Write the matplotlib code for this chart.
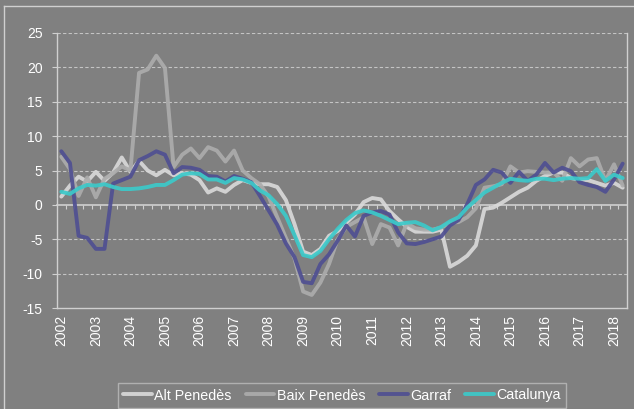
import matplotlib
matplotlib.use("Agg")
import matplotlib.pyplot as plt
from matplotlib.lines import Line2D

plt.rcParams['font.family'] = ['Liberation Sans', 'DejaVu Sans']

years = list(range(2002, 2019))
n_quarters = 66  # 2002Q1 .. 2018Q2

alt_penedes = [1.2, 2.8, 4.1, 3.4, 4.8, 3.5, 4.7, 6.9, 4.8, 6.4,
               5.0, 4.3, 5.1, 4.3, 4.6, 4.4, 3.6, 1.8, 2.4, 1.9,
               2.9, 3.6, 3.2, 3.0, 3.0, 2.6, 0.7, -2.8, -6.8, -7.3,
               -6.4, -4.5, -3.8, -2.6, -1.4, 0.4, 1.0, 0.8, -0.9, -2.1,
               -3.2, -3.9, -3.9, -3.9, -3.6, -9.0, -8.3, -7.4, -5.9, -0.6,
               -0.4, 0.3, 1.1, 1.9, 2.5, 3.5, 4.2, 4.7, 4.7, 3.9,
               3.7, 3.6, 3.2, 2.8, 3.2, 2.5]
baix_penedes = [7.0, 5.2, 1.3, 4.0, 1.1, 3.8, 4.6, 5.6, 5.0, 19.2,
                19.7, 21.7, 19.9, 5.5, 7.3, 8.2, 6.8, 8.4, 7.9, 6.3,
                7.9, 5.0, 3.9, 3.0, 1.2, -1.8, -4.8, -7.8, -12.6, -13.1,
                -11.3, -8.6, -5.0, -3.2, -2.5, -1.8, -5.7, -2.8, -3.3, -5.9,
                -2.7, -3.4, -3.6, -3.6, -3.3, -2.6, -2.5, -1.8, -0.5, 2.5,
                2.7, 3.0, 5.6, 4.7, 4.9, 4.8, 4.7, 4.7, 3.5, 6.8,
                5.6, 6.6, 6.8, 3.5, 5.9, 2.8]
garraf = [7.8, 6.1, -4.5, -4.8, -6.4, -6.4, 3.1, 3.6, 4.1, 6.5,
          7.1, 7.8, 7.3, 4.6, 5.5, 5.4, 5.1, 4.2, 4.1, 3.4,
          4.2, 3.8, 3.3, 1.3, -0.8, -2.9, -5.6, -7.6, -11.2, -11.4,
          -8.6, -7.2, -5.2, -3.0, -4.6, -1.6, -1.1, -0.9, -1.4, -4.0,
          -5.6, -5.7, -5.4, -5.0, -4.6, -3.0, -2.2, 0.1, 2.9, 3.7,
          5.1, 4.7, 3.2, 4.8, 3.5, 4.4, 6.1, 4.7, 5.4, 4.9,
          3.3, 2.9, 2.6, 1.9, 3.7, 6.0]
catalunya = [1.9, 1.6, 2.4, 2.9, 2.8, 3.0, 2.6, 2.3, 2.3, 2.4,
             2.6, 2.9, 2.9, 3.6, 4.4, 4.6, 4.5, 3.7, 3.7, 3.2,
             3.9, 3.7, 3.2, 2.1, 1.4, 0.1, -1.6, -4.4, -7.3, -7.6,
             -6.7, -5.0, -3.5, -2.2, -1.2, -0.8, -1.1, -1.6, -2.2, -2.8,
             -2.6, -2.5, -3.0, -3.7, -3.2, -2.4, -1.8, -0.4, 0.7, 1.8,
             2.5, 3.2, 3.8, 3.6, 3.5, 3.8, 3.8, 3.6, 3.8, 3.9,
             3.8, 3.9, 5.2, 3.5, 4.4, 3.9]

series_names = ['Alt Penedès', 'Baix Penedès', 'Garraf', 'Catalunya']
series_values = [alt_penedes, baix_penedes, garraf, catalunya]
series_colors = ['#d9d9d9', '#acacac', '#4f4f92', '#3ccaca']

bg = '#808080'
light = '#d0d0d0'
W, H = 634, 409
fig = plt.figure(figsize=(W / 100, H / 100), dpi=100, facecolor=bg)
ax = fig.add_axes([57 / W, 1 - 308 / H, (627 - 57) / W, (308 - 33) / H])
ax.set_facecolor(bg)

x = list(range(n_quarters))
for name, vals, col in zip(series_names, series_values, series_colors):
    ax.plot(x, vals, color=col, lw=2.8, label=name, alpha=0.92,
            solid_joinstyle='round', solid_capstyle='round', zorder=3)

ax.set_xlim(-0.5, n_quarters - 0.5)
ax.set_ylim(-15, 25)
ax.set_yticks(range(-15, 30, 5))
ax.set_yticklabels([str(v) for v in range(-15, 30, 5)])
for v in range(-10, 30, 5):
    if v != 0:
        ax.axhline(v, color='#c4c4c4', lw=0.8, ls=(0, (3, 2)), zorder=1)

xt = [4 * (y - 2002) for y in years]
ax.set_xticks(xt)
ax.set_xticklabels([str(y) for y in years], rotation=90)
ax.tick_params(axis='x', length=0, pad=5, labelsize=10, colors='white')
ax.tick_params(axis='y', length=3.5, width=0.8, color=light, pad=7,
               labelsize=10, labelcolor='white')

for s in ['left', 'bottom', 'right']:
    ax.spines[s].set_color(light)
    ax.spines[s].set_linewidth(1.0)
ax.spines['top'].set_visible(False)

# category axis crossing at zero with minor tick marks
sec = ax.secondary_xaxis(15 / 40)
sec.set_xticks([i + 0.5 for i in range(n_quarters - 1)])
sec.set_xticklabels([])
sec.tick_params(axis='x', direction='out', length=3, width=0.8, color=light)
sec.spines['bottom'].set_color(light)
sec.spines['bottom'].set_linewidth(1.2)

leg = ax.legend(loc='center', bbox_to_anchor=(342 / W, 1 - 395.5 / H),
                bbox_transform=fig.transFigure, ncol=4, frameon=True,
                fontsize=10.3, handlelength=2.0, handletextpad=0.15,
                columnspacing=1.0, borderpad=0.35, fancybox=False)
leg.get_frame().set_facecolor(bg)
leg.get_frame().set_edgecolor('#bdbdbd')
leg.get_frame().set_linewidth(1.0)
for t in leg.get_texts():
    t.set_color('white')
for h in leg.get_lines():
    h.set_linewidth(2.8)

# outer chart border (left and top visible)
fig.add_artist(Line2D([4 / W, 4 / W], [0, 1 - 6 / H], color=light, lw=1.0))
fig.add_artist(Line2D([4 / W, 1], [1 - 6 / H, 1 - 6 / H], color=light, lw=1.0))

fig.savefig('out.png', dpi=100, facecolor=bg)
